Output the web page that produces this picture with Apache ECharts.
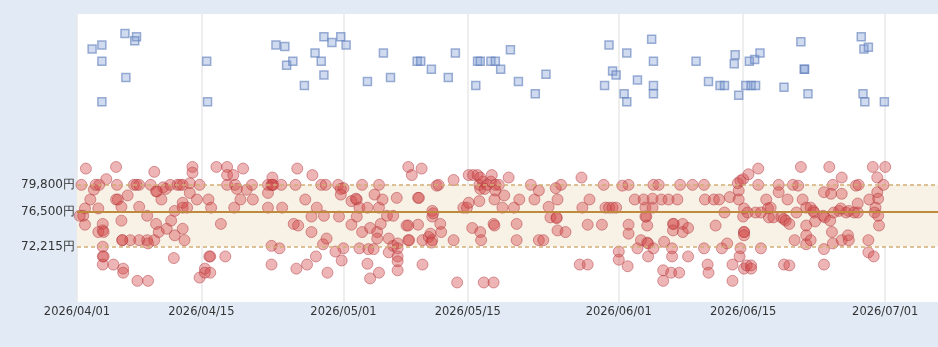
<!DOCTYPE html>
<html>
<head>
<meta charset="utf-8">
<script src="https://cdn.jsdelivr.net/npm/echarts@6/dist/echarts.min.js"></script>
<style>
  * { margin: 0; padding: 0; }
  body { background: #e2ebf5; }
  #chart { width: 938px; height: 347px; }
</style>
</head>
<body>
<div id="chart"></div>
<script>
// day offsets are counted from 2026/04/01
const startDate = '2026/04/01';
const lastDay = 96.94;

const xTickDates = ['2026/04/01', '2026/04/15', '2026/05/01', '2026/05/15', '2026/06/01', '2026/06/15', '2026/07/01'];
const yTickPrices = [72215, 76500, 79800];

// band: low / median / high
const bandLow = 72215;
const bandMid = 76500;
const bandHigh = 79800;

// red dots: [day, price]
const salePoints = [
  [1.0, 81800], [0.5, 79800], [0.9, 76900], [0.7, 76000], [0.3, 76000], [0.9, 74900],
  [1.5, 78000], [1.9, 79200], [2.1, 79800], [2.5, 79800], [2.4, 76900], [2.4, 74000],
  [2.9, 75000], [2.9, 74200], [3.0, 74000], [2.9, 72200], [2.9, 71000], [3.0, 71000],
  [2.9, 70000], [3.3, 80500], [4.1, 70000], [4.4, 82000], [4.5, 79800], [4.4, 78000],
  [4.6, 78000], [5.0, 77100], [5.0, 75400], [5.1, 73000], [5.1, 73000], [5.2, 69500],
  [5.2, 69000], [5.7, 78500], [6.0, 73000], [6.4, 79800], [6.7, 79800], [7.0, 79800],
  [6.8, 68000], [7.0, 77100], [7.0, 73000], [7.9, 76000], [7.9, 73000], [8.0, 72600],
  [8.0, 68000], [8.3, 79800], [8.7, 81400], [8.7, 73000], [8.9, 79000], [9.0, 79000],
  [8.9, 75000], [9.2, 74000], [9.5, 78000], [9.7, 79500], [10.0, 79300], [10.1, 74400],
  [10.5, 79800], [10.6, 75400], [10.9, 70800], [11.0, 76600], [11.0, 73600], [11.3, 79800],
  [11.6, 79800], [11.9, 79800], [11.9, 77600], [11.9, 77000], [12.4, 77000], [11.9, 74400],
  [12.1, 73000], [12.7, 80000], [12.7, 78800], [13.0, 82000], [13.0, 81300], [13.5, 78000],
  [13.8, 79800], [13.8, 68400], [14.4, 69500], [14.4, 69000], [15.0, 69000], [14.8, 78000],
  [14.9, 71000], [15.0, 71000], [15.1, 77000], [15.7, 82000], [16.2, 75000], [16.7, 71000],
  [16.9, 82000], [16.9, 81000], [16.9, 79800], [17.6, 81000], [17.8, 79800], [18.0, 79300],
  [17.7, 77000], [18.4, 78000], [18.7, 81800], [19.1, 79200], [19.7, 79800], [19.8, 78000],
  [21.5, 78800], [21.5, 77000], [21.5, 79800], [21.9, 79800], [22.0, 79800], [22.1, 79800],
  [22.0, 80700], [21.9, 72300], [21.9, 70000],
  [24.8, 81800], [23.0, 79800], [23.1, 77000], [22.8, 72000], [24.6, 79800], [24.4, 75000],
  [24.9, 74800], [24.7, 69500], [25.7, 78000], [25.9, 70000], [26.4, 75900], [26.4, 74000],
  [26.5, 81000], [27.0, 77000], [26.9, 71000], [27.5, 79800], [28.0, 79800], [27.8, 76000],
  [27.7, 72500], [28.1, 73200], [28.2, 69000], [29.1, 71600], [29.4, 79800], [29.7, 79300],
  [30.0, 79400], [29.7, 78600], [29.5, 75900], [29.8, 70500], [30.0, 72000], [30.9, 77800],
  [31.5, 78000], [31.4, 78100], [30.9, 74900], [31.5, 75900], [31.8, 77000], [31.8, 72000],
  [32.1, 79800], [32.1, 74000], [32.7, 77000], [32.7, 70100], [32.8, 71900], [33.4, 71900],
  [33.0, 74500], [33.0, 68300], [33.5, 78600], [33.8, 74000], [33.8, 73200], [34.0, 79800],
  [34.0, 77000], [34.0, 69000], [34.2, 75000], [34.4, 78000], [34.9, 76000], [35.6, 76000],
  [35.1, 73200], [35.1, 71500], [35.6, 72300], [36.1, 72600], [36.1, 72000], [36.1, 71000],
  [36.1, 70400], [36.1, 69300], [36.0, 78200], [37.1, 74800], [37.3, 74800], [37.3, 82000],
  [37.7, 81000], [37.3, 73000], [37.4, 73000], [38.4, 78200], [38.5, 78200], [38.4, 74900],
  [38.8, 81800], [38.9, 73000], [38.9, 70000], [39.6, 73400], [39.8, 73800], [40.0, 73000],
  [39.9, 72700], [40.0, 76600], [40.0, 75900], [40.1, 76300], [40.5, 79700], [40.7, 79800],
  [40.9, 75000], [41.0, 74000], [42.4, 80400], [42.4, 73000], [42.8, 67800], [43.5, 77000],
  [43.9, 77000], [44.1, 77600], [44.1, 81000], [44.6, 81000], [45.1, 81000], [44.5, 74500],
  [45.3, 79800], [45.4, 79300], [45.7, 80200], [45.3, 77800], [45.4, 74000], [45.5, 73000],
  [45.8, 67800], [45.9, 79300],
  [46.9, 67800], [45.4, 80700], [46.2, 79800], [46.6, 80200], [47.1, 79800], [47.5, 79800],
  [46.7, 81000], [47.1, 79100], [47.0, 78000], [48.1, 78500], [47.9, 77000], [49.2, 77000],
  [46.9, 75000], [47.0, 74800], [48.6, 80700], [49.5, 75000], [49.5, 73000], [49.8, 78000],
  [51.1, 79800], [51.5, 78000], [52.0, 79100], [52.0, 73000], [52.5, 73000], [53.1, 77100],
  [53.3, 75800], [54.0, 75800], [54.0, 75700], [53.9, 79400], [54.5, 79800], [54.1, 78000],
  [54.1, 74200], [55.0, 74000], [56.6, 70000], [57.5, 70000], [56.8, 80700], [56.9, 77000],
  [57.5, 74900], [57.7, 78000], [59.1, 74900], [59.3, 79800], [59.5, 77000], [59.9, 77000],
  [60.3, 77000], [60.7, 77000], [61.4, 79700], [62.1, 79800], [61.0, 71600], [61.0, 70600],
  [62.0, 69800], [62.1, 74900], [62.1, 73800], [62.8, 78000], [63.8, 78000], [63.1, 72000],
  [63.5, 73000], [64.2, 72700], [64.3, 72600], [64.0, 77000], [64.0, 75900], [64.1, 75900],
  [64.2, 74800], [64.8, 77000], [64.8, 78100], [64.3, 71000], [64.9, 79800], [65.5, 79800],
  [64.9, 72000], [65.8, 78000], [66.6, 78000], [67.6, 78000], [66.1, 72800], [66.0, 69300],
  [66.0, 68000], [66.9, 69000], [67.8, 69000], [67.0, 72000], [67.0, 71000], [67.1, 75000],
  [67.2, 75000], [67.1, 74200], [68.2, 75000], [68.2, 74000], [68.8, 74500], [67.9, 79800],
  [68.8, 71000],
  [69.3, 79800], [70.6, 79800], [70.6, 72000], [70.7, 78000], [71.7, 78000], [72.3, 78000],
  [71.0, 70000], [71.1, 69000], [71.9, 74800], [72.6, 72000], [73.2, 72600], [72.9, 76400],
  [73.5, 78300], [73.8, 70000], [73.8, 68000], [74.4, 80000], [74.5, 79100], [74.7, 80300],
  [74.5, 78000], [75.0, 80500], [75.1, 76900], [75.0, 75900], [75.5, 76400], [75.1, 74000],
  [75.1, 74000], [75.1, 73600], [74.7, 72000], [74.6, 71000], [75.1, 69500], [75.4, 69900],
  [75.9, 69900], [75.9, 69500], [75.6, 81100], [76.7, 81800], [76.7, 79800], [76.4, 76400],
  [77.0, 76400], [77.0, 72000], [77.6, 78000], [77.8, 76900], [78.1, 77000], [77.9, 75800],
  [78.4, 75800], [79.0, 79800], [79.0, 78900], [79.3, 75800], [79.6, 75600], [79.8, 75400],
  [80.2, 75000], [79.6, 70000], [80.2, 69900], [80.0, 78000], [80.6, 79800], [81.2, 79700],
  [81.0, 76400], [80.8, 73000], [81.5, 82000], [81.7, 78000], [82.1, 77000], [82.1, 74800],
  [82.1, 73600], [82.1, 72500], [82.6, 77000], [82.9, 76600], [83.0, 76400], [82.6, 73000],
  [83.1, 75300], [84.0, 76000], [84.2, 75800], [84.1, 78900], [84.1, 71900], [84.1, 70000],
  [84.7, 82000], [84.9, 78700], [85.1, 79800], [84.8, 75400], [85.0, 74000], [85.1, 72600],
  [85.2, 76400], [85.8, 76600], [86.0, 76900], [86.1, 80700], [86.1, 78700], [86.1, 73000],
  [86.8, 73600], [86.9, 73000], [86.6, 76400], [86.9, 76600], [87.5, 76400], [87.9, 76400],
  [87.7, 79700], [88.0, 79800], [87.9, 77500], [89.2, 78000], [89.1, 73000], [89.1, 71500],
  [89.7, 71000], [89.6, 82000], [91.0, 82000], [90.1, 80700], [90.1, 78900], [90.2, 78100],
  [89.9, 77000], [89.8, 76400], [90.2, 76000], [90.8, 79800], [90.3, 74800]
];

// blue squares: [day, price]
const listPoints = [
  [1.7, 96500], [2.8, 97000], [2.8, 95000], [2.8, 90000], [5.4, 98400], [5.5, 93000],
  [6.7, 98000], [6.5, 97500], [14.6, 95000], [14.7, 90000], [22.4, 97000], [23.4, 96800],
  [23.6, 94500], [24.3, 95000], [25.6, 92000], [26.8, 96000], [27.5, 95000], [27.8, 98000],
  [27.8, 93300], [28.7, 97300], [29.7, 98000], [30.3, 97000], [32.7, 92500], [34.5, 96000],
  [35.3, 93000], [38.3, 95000], [38.7, 95000], [39.9, 94000], [41.8, 93000], [42.6, 96000],
  [44.9, 92000], [45.1, 95000], [45.4, 95000], [46.6, 95000], [47.1, 95000], [47.7, 94000],
  [48.8, 96400], [49.7, 92500], [51.6, 91000], [52.8, 93400], [59.4, 92000], [59.9, 97000],
  [60.3, 93800], [60.7, 93300], [61.6, 91000], [61.9, 90000], [61.9, 96000], [63.1, 92700],
  [64.7, 97700], [64.9, 95000], [64.9, 92000], [64.9, 91000], [69.7, 95000], [71.1, 92500],
  [72.4, 92000], [72.9, 92000], [74.1, 95800], [74.0, 94700], [74.5, 90800], [75.3, 92000],
  [75.9, 92000], [76.4, 92000], [75.7, 95000], [76.3, 95200], [76.9, 96000], [79.6, 91800],
  [81.5, 97400], [81.9, 94000], [81.9, 94000], [82.3, 91000], [88.3, 98000], [88.6, 96500],
  [89.1, 96700], [88.5, 91000], [88.7, 90000], [90.9, 90000]
];

const DAY = 86400000;
function toMs(s) {
  const p = s.split('/').map(Number);
  return Date.UTC(p[0], p[1] - 1, p[2]);
}
const base = toMs(startDate);
function pad(n) { return n < 10 ? '0' + n : '' + n; }
function fmtDate(v) {
  const d = new Date(v);
  return d.getUTCFullYear() + '/' + pad(d.getUTCMonth() + 1) + '/' + pad(d.getUTCDate());
}
function fmtYen(v) {
  return String(v).replace(/\B(?=(\d{3})+(?!\d))/g, ',') + '円';
}
function toSeries(list) {
  return list.map(function (p) { return [base + p[0] * DAY, p[1]]; });
}

const xTicks = xTickDates.map(toMs);

const chart = echarts.init(document.getElementById('chart'));
chart.setOption({
  animation: false,
  backgroundColor: '#e2ebf5',
  grid: {
    left: 77,
    right: 0,
    top: 14,
    bottom: 45,
    show: true,
    backgroundColor: '#ffffff',
    borderWidth: 0
  },
  xAxis: {
    type: 'value',
    min: base,
    max: base + lastDay * DAY,
    axisLine: { show: false },
    axisTick: { show: false, customValues: xTicks },
    axisLabel: {
      customValues: xTicks,
      formatter: fmtDate,
      margin: 4,
      color: '#333',
      fontFamily: 'DejaVu Sans',
      fontSize: 11.5
    },
    splitLine: { show: true, lineStyle: { color: '#e8e8e8', width: 1.5 } }
  },
  yAxis: {
    type: 'value',
    min: 65400,
    max: 100800,
    axisLine: { show: false },
    axisTick: { show: false, customValues: yTickPrices },
    axisLabel: {
      customValues: yTickPrices,
      formatter: fmtYen,
      margin: 2,
      color: '#333',
      fontFamily: 'DejaVu Sans',
      fontSize: 12
    },
    splitLine: { show: false }
  },
  series: [
    {
      name: 'band',
      type: 'scatter',
      data: [],
      z: 1,
      silent: true,
      markArea: {
        silent: true,
        itemStyle: { color: '#f8f1e6' },
        data: [[{ yAxis: bandLow }, { yAxis: bandHigh }]]
      },
      markLine: {
        silent: true,
        symbol: 'none',
        label: { show: false },
        data: [
          { yAxis: bandHigh, lineStyle: { color: '#d2ad76', type: [4, 3], width: 1.5 } },
          { yAxis: bandLow, lineStyle: { color: '#d2ad76', type: [4, 3], width: 1.5 } },
          { yAxis: bandMid, lineStyle: { color: '#c08a3e', type: 'solid', width: 2 } }
        ]
      }
    },
    {
      name: 'sales',
      type: 'scatter',
      z: 3,
      symbol: 'circle',
      symbolSize: 11,
      itemStyle: {
        color: 'rgba(210, 70, 70, 0.5)',
        borderColor: 'rgba(175, 55, 60, 0.6)',
        borderWidth: 1
      },
      data: toSeries(salePoints)
    },
    {
      name: 'listings',
      type: 'scatter',
      z: 4,
      symbol: 'rect',
      symbolSize: 8,
      itemStyle: {
        color: 'rgba(125, 155, 210, 0.45)',
        borderColor: 'rgba(100, 130, 190, 0.8)',
        borderWidth: 1.5
      },
      data: toSeries(listPoints)
    }
  ]
});
</script>
</body>
</html>
